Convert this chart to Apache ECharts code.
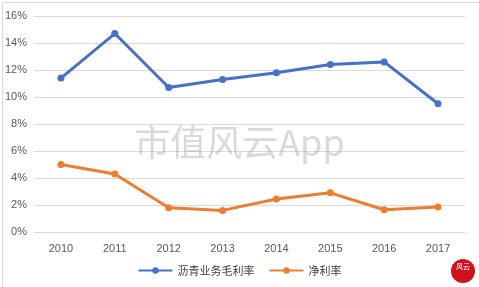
<!DOCTYPE html>
<html><head><meta charset="utf-8">
<script src="https://cdn.jsdelivr.net/npm/echarts@6/dist/echarts.min.js"></script>
<style>html,body{margin:0;padding:0;background:#fff}#c{width:479px;height:287px}</style>
</head><body><div id="c"></div>
<script>
var categories = ['2010','2011','2012','2013','2014','2015','2016','2017'];
var grossMargin = [11.4, 14.7, 10.7, 11.3, 11.8, 12.4, 12.6, 9.5];
var netMargin = [5.0, 4.3, 1.8, 1.6, 2.45, 2.9, 1.65, 1.85];
var seriesNames = ['沥青业务毛利率', '净利率'];
var chart = echarts.init(document.getElementById('c'), null, {renderer:'canvas'});
var font = 'Liberation Sans, Arial, sans-serif';
chart.setOption({
  animation:false,
  backgroundColor:'#fff',
  grid:{left:34, right:14, top:16, bottom:55},
  xAxis:{type:'category', data:categories, boundaryGap:true,
    axisLine:{lineStyle:{color:'#d9d9d9'}}, axisTick:{show:false},
    axisLabel:{color:'#595959', fontSize:11, fontFamily:font, margin:11}},
  yAxis:{type:'value', min:0, max:16, interval:2,
    axisLabel:{formatter:'{value}%', color:'#595959', fontSize:11, fontFamily:font, margin:7},
    splitLine:{lineStyle:{color:'#d9d9d9'}}, axisLine:{show:false}, axisTick:{show:false}},
  legend:{bottom:6, left:'center', itemWidth:34, itemHeight:8, itemGap:14,
    textStyle:{color:'#404040', fontSize:11, fontFamily:'Noto Sans CJK SC'},
    data:seriesNames},
  series:[
    {name:seriesNames[0], type:'line', data:grossMargin, symbol:'circle', symbolSize:7,
      lineStyle:{width:3, color:'#4472C4'}, itemStyle:{color:'#4472C4'}},
    {name:seriesNames[1], type:'line', data:netMargin, symbol:'circle', symbolSize:7,
      lineStyle:{width:3, color:'#ED7D31'}, itemStyle:{color:'#ED7D31'}}
  ],
  graphic:[
    {type:'rect', left:0, top:0, shape:{width:478, height:286}, style:{fill:'none', stroke:'#d9d9d9', lineWidth:1}, silent:true},
    {type:'text', left:'center', top:124, style:{text:'市值风云App', fill:'rgba(170,170,170,0.45)', font:'36px "Noto Sans CJK SC"'}, silent:true, z:100},
    {type:'circle', shape:{cx:463, cy:271, r:12}, style:{fill:'#d0121b'}, silent:true},
    {type:'text', x:456, y:263, style:{text:'风云', fill:'#fff', font:'7px "Noto Sans CJK SC"', width:14}, silent:true}
  ]
});
</script></body></html>
